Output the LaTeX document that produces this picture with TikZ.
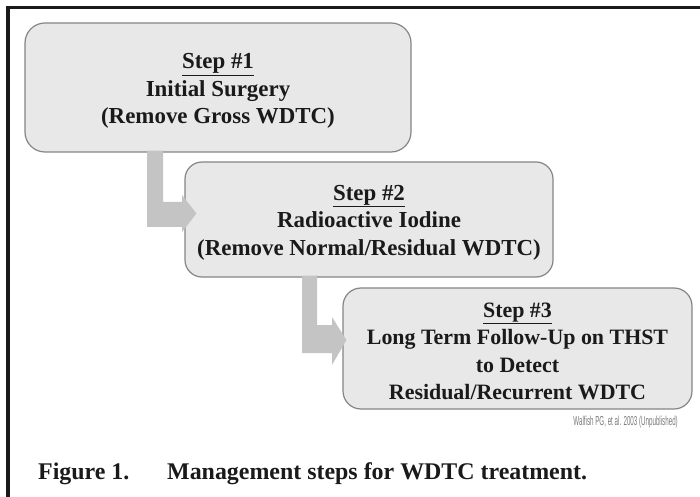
\documentclass[tikz,border=0pt]{standalone}
\usepackage{fontspec}
\setmainfont{Liberation Serif}
\newfontfamily\arialfont{Liberation Sans}
\usetikzlibrary{calc}
\definecolor{boxfill}{HTML}{E8E8E8}
\definecolor{boxline}{HTML}{858585}
\definecolor{arrowfill}{HTML}{C4C4C4}
\definecolor{inkdark}{HTML}{1A1A1A}
\definecolor{notegray}{HTML}{7A7A7A}
\begin{document}
\begin{tikzpicture}[x=1bp,y=-1bp,
  stepbox/.style={draw=boxline, line width=1.2bp, fill=boxfill, inner sep=0pt},
  steptext/.style={inner sep=0pt, align=center, text=inkdark,
    font=\bfseries\fontsize{23}{27.5}\selectfont},
  bentarrow/.style={fill=arrowfill, draw=none},
  captiontext/.style={inner sep=0pt, text=inkdark, font=\bfseries\fontsize{24}{28}\selectfont}]
\useasboundingbox (0,0) rectangle (700,497);
\fill[white] (0,0) rectangle (700,497);
% frame
\fill[inkdark] (6,6) rectangle (700,9.5);
\fill[inkdark] (6,6) rectangle (10,497);
% boxes
\node[stepbox, rounded corners=20bp, minimum width=386bp, minimum height=129bp] (b1) at (218,87.5) {};
\node[stepbox, rounded corners=17bp, minimum width=368bp, minimum height=115bp] (b2) at (369,219.5) {};
\node[stepbox, rounded corners=18bp, minimum width=349bp, minimum height=121bp] (b3) at (517.5,348.5) {};
\node[steptext] (t1) at ($(b1.center)+(0,3.5)$)
  {\underline{Step \#1}\\Initial Surgery\\(Remove Gross WDTC)};
\node[steptext] (t2) at ($(b2.center)+(0,3)$)
  {\underline{Step \#2}\\Radioactive Iodine\\(Remove Normal/Residual WDTC)};
\node[steptext, font=\bfseries\fontsize{22}{27.5}\selectfont] (t3) at ($(b3.center)+(0,3)$)
  {\underline{Step \#3}\\Long Term Follow-Up on THST\\to Detect\\Residual/Recurrent WDTC};
% bent arrows
\fill[bentarrow] ($(b1.south)+(-71,-2)$) -- ++(16,0) |- (182,202) -- (182,195)
  -- ($(b2.west)+(12,-6)$) -- (182,232) -- (182,227) -- (147,227) -- cycle;
\fill[bentarrow] ($(b2.south)+(-67,-2)$) -- ++(15,0) |- (332,325) -- (332,317)
  -- ($(b3.west)+(4,-8.5)$) -- (332,365) -- (332,353) -- (302,353) -- cycle;
% note
\node[anchor=east, inner sep=0pt, text=notegray] (note) at (678,422)
  {\scalebox{0.48}[1]{\arialfont\fontsize{13}{15}\selectfont Walfish PG, et al. 2003 (Unpublished)}};
% caption
\node[captiontext, anchor=base west] (fig) at (38,479) {Figure 1.};
\node[captiontext, anchor=base west] (cap) at (167,479) {Management steps for WDTC treatment.};
\end{tikzpicture}
\end{document}
